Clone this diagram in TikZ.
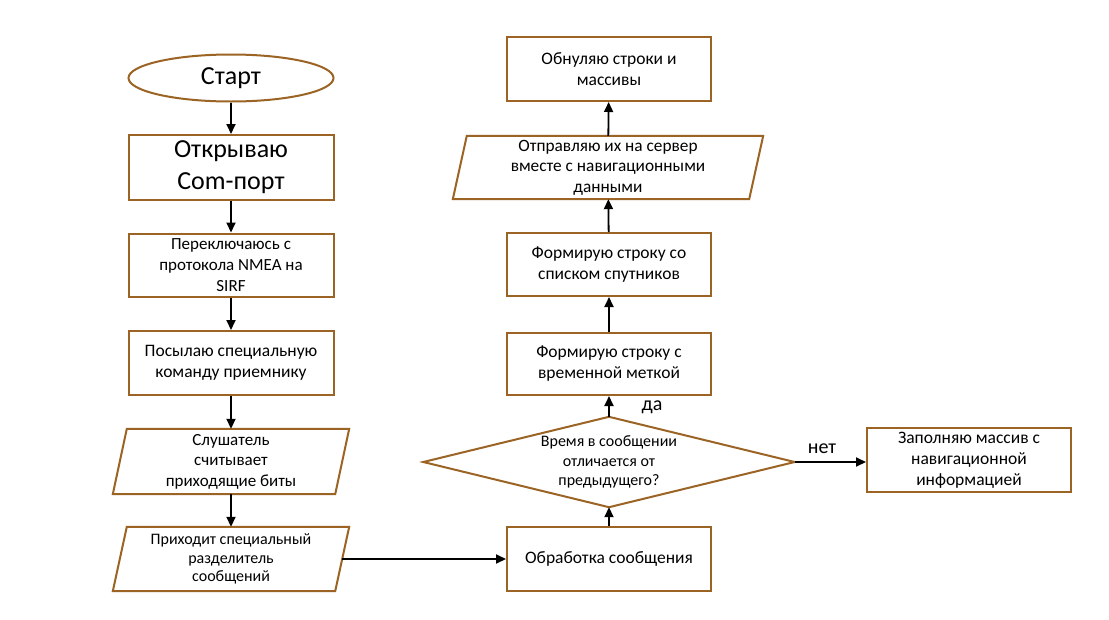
\documentclass[tikz,border=0pt]{standalone}
\usepackage{fontspec}
\setmainfont{Carlito}
\usetikzlibrary{arrows.meta,calc,shapes.geometric}
\definecolor{brd}{RGB}{156,100,36}
\newcommand\drawpara[2]{\draw[brdline] ($(#1.south west)+(-#2,0)$) -- ($(#1.north west)+(#2,0)$) -- ($(#1.north east)+(#2,0)$) -- ($(#1.south east)+(-#2,0)$) -- cycle;}
\begin{document}
\begin{tikzpicture}[x=1pt,y=-1pt,
  brdline/.style={draw=brd,line width=2pt,line join=miter},
  txt/.style={inner sep=0pt,align=center,font=\fontsize{17.5}{21}\selectfont},
  box/.style={txt,brdline,minimum width=204,minimum height=64},
  bigbox/.style={box,font=\fontsize{26}{32}\selectfont},
  paranode/.style={txt,minimum height=64},
  arr/.style={-{Triangle[length=10pt,width=9pt]},line width=1.8pt,black},
  lbl/.style={inner sep=0pt,font=\fontsize{20}{24}\selectfont}
]
\useasboundingbox (0,0) rectangle (1109,619);
\fill[white] (0,0) rectangle (1109,619);

% left column
\node[ellipse,brdline,minimum width=205,minimum height=47,inner sep=0pt,font=\fontsize{26}{32}\selectfont] (start) at (231,78) {Старт};
\node[bigbox,minimum width=205,minimum height=65] (n1) at (231,167.5) {Открываю\\Com-порт};
\node[box,minimum width=205,minimum height=63,font=\fontsize{17}{21}\selectfont] (n2) at (231,265) {Переключаюсь с\\протокола NMEA на\\SIRF};
\node[box,minimum width=205,minimum height=64] (n3) at (231,363) {Посылаю специальную\\команду приемнику};
\node[paranode,minimum width=222,minimum height=65,font=\fontsize{17}{20.5}\selectfont] (n4) at (231,461.5) {Слушатель\\считывает\\приходящие биты};
\drawpara{n4}{7}
\node[paranode,minimum width=222,minimum height=64,font=\fontsize{16}{18.5}\selectfont] (n5) at (231,559) {Приходит специальный\\разделитель\\сообщений};
\drawpara{n5}{7}

% right column
\node[box] (r1) at (609,559) {Обработка сообщения};
\node[txt,minimum width=371,minimum height=90,font=\fontsize{16}{19.5}\selectfont] (dec) at (609,462) {Время в сообщении\\отличается от\\предыдущего?};
\draw[brdline] (dec.west) -- (dec.north) -- (dec.east) -- (dec.south) -- cycle;
\node[box,minimum height=62] (r2) at (609,364) {Формирую строку с\\временной меткой};
\node[box,minimum height=63] (r3) at (609,264.5) {Формирую строку со\\списком спутников};
\node[paranode,minimum width=296,minimum height=63,font=\fontsize{17.3}{20.5}\selectfont] (r4) at (608,167.5) {Отправляю их на сервер\\вместе с навигационными\\данными};
\drawpara{r4}{7}
\node[box] (r5) at (609,69) {Обнуляю строки и\\массивы};
\node[box] (side) at (969,460) {Заполняю массив с\\навигационной\\информацией};

% connectors
\draw[arr] (start) -- (n1);
\draw[arr] (n1) -- (n2);
\draw[arr] (n2) -- (n3);
\draw[arr] (n3) -- (n4);
\draw[arr] (n4) -- (n5);
\draw[arr] (n5.east) -- (r1.west);
\draw[arr] (r1) -- (dec.south);
\draw[arr] (dec.north) -- (r2);
\draw[arr] (r2) -- (r3);
\draw[arr] (r3) -- (r4);
\draw[arr] (r4) -- (r5);
\draw[arr] (dec.east) -- (dec.east -| side.west);

\node[lbl] (yes) at (652,407) {да};
\node[lbl] (no) at (822,449) {нет};
\end{tikzpicture}
\end{document}
